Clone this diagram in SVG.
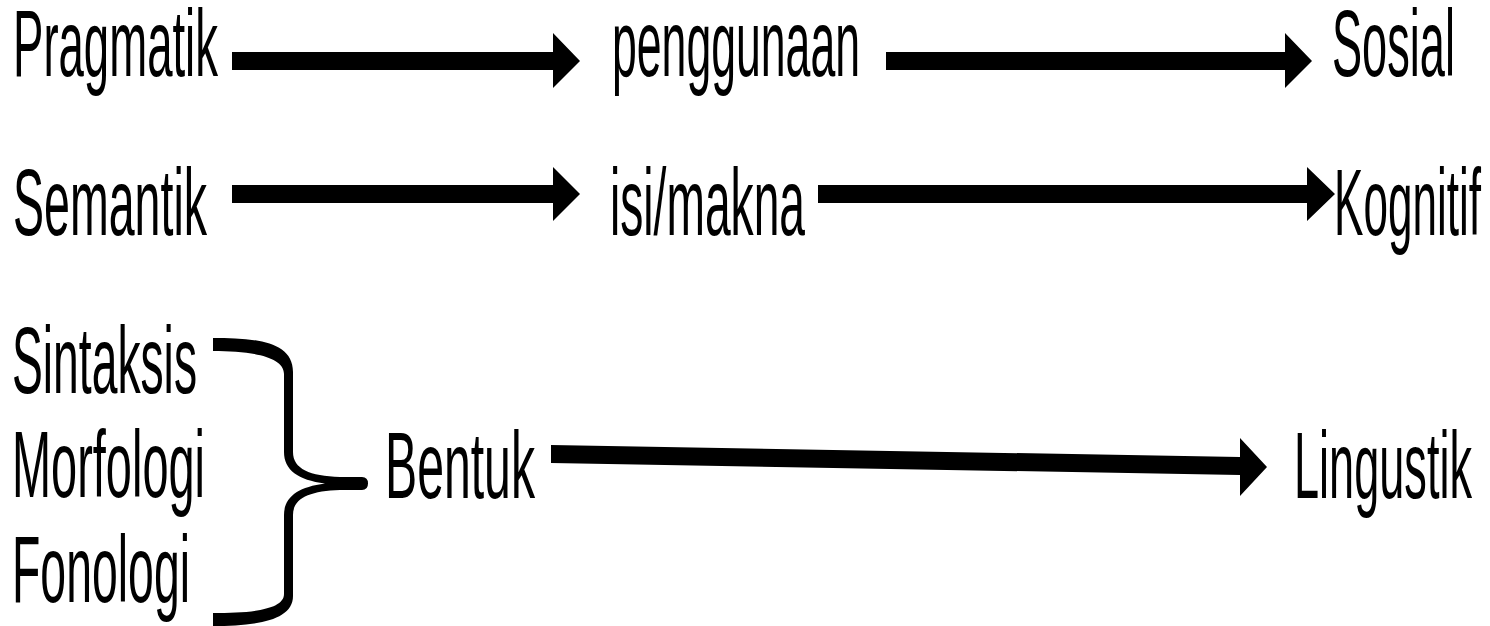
<svg xmlns="http://www.w3.org/2000/svg" width="1490" height="626" viewBox="0 0 1490 626">
<style>
  .t { font-family: "Liberation Sans", Arial, sans-serif; font-size: 94px; fill: #000; }
  .arr { fill: #000; stroke: none; }
  .brace { fill: #000; stroke: none; }
</style>
<rect x="0" y="0" width="1490" height="626" fill="#fff"/>
<g id="nodes">
  <g id="pragmatik"><text class="t" x="13" y="76" textLength="205" lengthAdjust="spacingAndGlyphs">Pragmatik</text></g>
  <g id="penggunaan"><text class="t" x="612" y="76" textLength="248" lengthAdjust="spacingAndGlyphs">penggunaan</text></g>
  <g id="sosial"><text class="t" x="1332" y="76" textLength="123" lengthAdjust="spacingAndGlyphs">Sosial</text></g>
  <g id="semantik"><text class="t" x="13" y="235" textLength="194" lengthAdjust="spacingAndGlyphs">Semantik</text></g>
  <g id="isimakna"><text class="t" x="610" y="235" textLength="195" lengthAdjust="spacingAndGlyphs">isi/makna</text></g>
  <g id="kognitif"><text class="t" x="1334" y="235" textLength="147" lengthAdjust="spacingAndGlyphs">Kognitif</text></g>
  <g id="sintaksis"><text class="t" x="12" y="393" textLength="185" lengthAdjust="spacingAndGlyphs">Sintaksis</text></g>
  <g id="morfologi"><text class="t" x="12" y="497" textLength="193" lengthAdjust="spacingAndGlyphs">Morfologi</text></g>
  <g id="fonologi"><text class="t" x="12" y="602" textLength="178" lengthAdjust="spacingAndGlyphs">Fonologi</text></g>
  <g id="bentuk"><text class="t" x="385" y="498" textLength="150" lengthAdjust="spacingAndGlyphs">Bentuk</text></g>
  <g id="lingustik"><text class="t" x="1294" y="498" textLength="178" lengthAdjust="spacingAndGlyphs">Lingustik</text></g>
  <g id="brace">
    <path class="brace" d="M213,338 C252,338 293,340 293,372 L293,452 C293,469 310,476 340,477 L362,477 Q368,477 368,483.5 Q368,490 362,490 L340,490 C310,491 293,498 293,515 L293,596 C293,621 255,626 213,626 L213,613 C250,613 284,610 284,594 L284,515 C284,497 298,487 325,483.5 C298,480 284,470 284,452 L284,374 C284,356 250,351 213,351 Z"/>
  </g>
</g>
<g id="connectors">
  <path class="arr" d="M232,52 L553,52 L553,33 L580,61 L553,88 L553,70 L232,70 Z"/>
  <path class="arr" d="M886,52 L1285,52 L1285,33 L1312,61 L1285,88 L1285,70 L886,70 Z"/>
  <path class="arr" d="M232,185 L553,185 L553,167 L580,194 L553,221 L553,203 L232,203 Z"/>
  <path class="arr" d="M818,185 L1307,185 L1307,167 L1335,194 L1307,221 L1307,203 L818,203 Z"/>
  <path class="arr" d="M551,445 L1240,457 L1240,438 L1267,467 L1240,496 L1240,475 L551,463 Z"/>
</g>
</svg>
